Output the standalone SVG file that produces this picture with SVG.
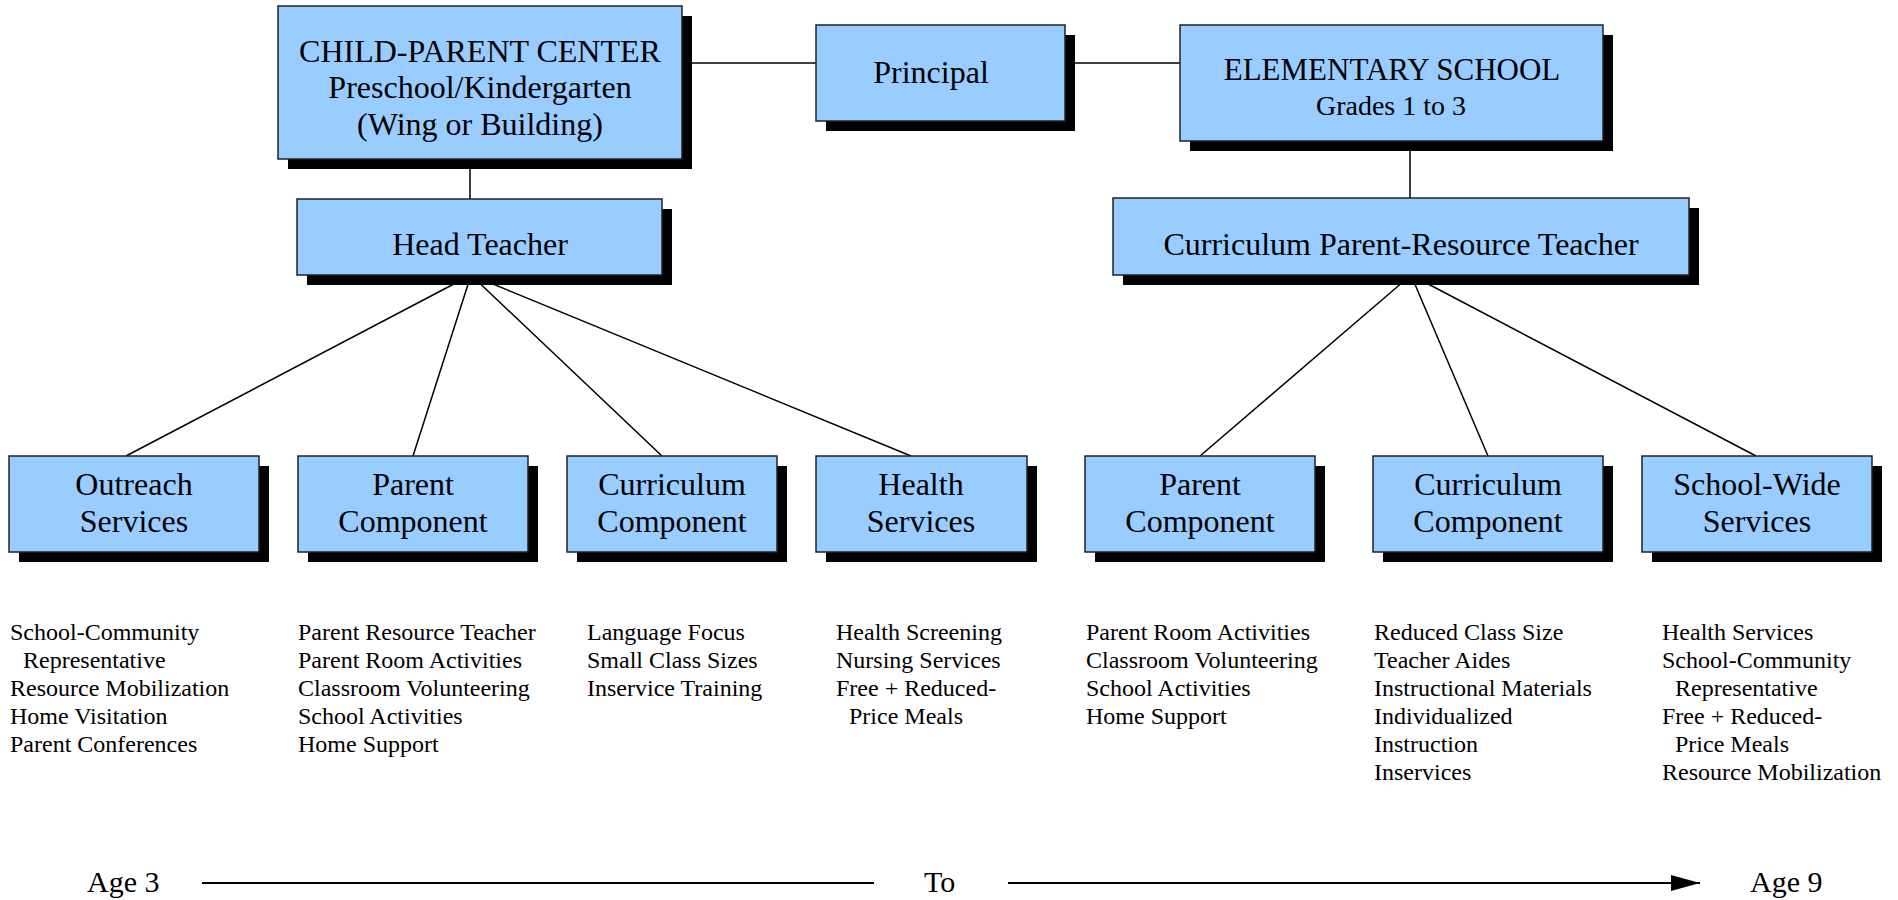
<svg xmlns="http://www.w3.org/2000/svg" width="1898" height="900" viewBox="0 0 1898 900">
<style>
.box{fill:#99ccff;stroke:#222;stroke-width:1.5}
.sh{fill:#000}
.t{font-family:"Liberation Serif","Times New Roman",serif;font-size:32px;fill:#000;text-anchor:middle}
.s{font-family:"Liberation Serif","Times New Roman",serif;font-size:24px;fill:#000}
.ax{font-family:"Liberation Serif","Times New Roman",serif;font-size:30px;fill:#000}
.ln{stroke:#000;stroke-width:1.5;fill:none}
</style>
<defs>
<marker id="arr" markerWidth="30" markerHeight="16" refX="29" refY="8" orient="auto" markerUnits="userSpaceOnUse">
<path d="M0,0 L29,8 L0,16 Z" fill="#000"/>
</marker>
</defs>
<rect width="1898" height="900" fill="#fff"/>
<g id="connectors">
<line class="ln" x1="682" y1="63" x2="816" y2="63"/>
<line class="ln" x1="1065" y1="63" x2="1180" y2="63"/>
<line class="ln" x1="470" y1="159" x2="470" y2="199"/>
<line class="ln" x1="1410" y1="141" x2="1410" y2="198"/>
<line class="ln" x1="471" y1="275" x2="126" y2="456"/>
<line class="ln" x1="471" y1="275" x2="413" y2="456"/>
<line class="ln" x1="471" y1="275" x2="662" y2="456"/>
<line class="ln" x1="471" y1="275" x2="911" y2="456"/>
<line class="ln" x1="1411" y1="275" x2="1200" y2="456"/>
<line class="ln" x1="1411" y1="275" x2="1488" y2="456"/>
<line class="ln" x1="1411" y1="275" x2="1756" y2="456"/>
</g>
<g id="cpc">
<rect class="sh" x="288" y="16" width="404" height="153"/>
<rect class="box" x="278" y="6" width="404" height="153"/>
<text class="t" x="480" y="62">CHILD-PARENT CENTER</text>
<text class="t" x="480" y="98">Preschool/Kindergarten</text>
<text class="t" x="480" y="135">(Wing or Building)</text>
</g>
<g id="principal">
<rect class="sh" x="826" y="35" width="249" height="96"/>
<rect class="box" x="816" y="25" width="249" height="96"/>
<text class="t" x="931" y="83">Principal</text>
</g>
<g id="elementary">
<rect class="sh" x="1190" y="35" width="423" height="116"/>
<rect class="box" x="1180" y="25" width="423" height="116"/>
<text class="t" x="1392" y="80" style="font-size:31px">ELEMENTARY SCHOOL</text>
<text class="t" x="1391" y="115" style="font-size:28px">Grades 1 to 3</text>
</g>
<g id="headteacher">
<rect class="sh" x="307" y="209" width="365" height="76"/>
<rect class="box" x="297" y="199" width="365" height="76"/>
<text class="t" x="480" y="255">Head Teacher</text>
</g>
<g id="cprt">
<rect class="sh" x="1123" y="208" width="576" height="77"/>
<rect class="box" x="1113" y="198" width="576" height="77"/>
<text class="t" x="1401" y="255">Curriculum Parent-Resource Teacher</text>
</g>
<g id="outreach">
<rect class="sh" x="19" y="466" width="250" height="96"/>
<rect class="box" x="9" y="456" width="250" height="96"/>
<text class="t" x="134" y="495">Outreach</text>
<text class="t" x="134" y="532">Services</text>
</g>
<g id="parent1">
<rect class="sh" x="308" y="466" width="230" height="96"/>
<rect class="box" x="298" y="456" width="230" height="96"/>
<text class="t" x="413" y="495">Parent</text>
<text class="t" x="413" y="532">Component</text>
</g>
<g id="curriculum1">
<rect class="sh" x="577" y="466" width="210" height="96"/>
<rect class="box" x="567" y="456" width="210" height="96"/>
<text class="t" x="672" y="495">Curriculum</text>
<text class="t" x="672" y="532">Component</text>
</g>
<g id="health">
<rect class="sh" x="826" y="466" width="211" height="96"/>
<rect class="box" x="816" y="456" width="211" height="96"/>
<text class="t" x="921" y="495">Health</text>
<text class="t" x="921" y="532">Services</text>
</g>
<g id="parent2">
<rect class="sh" x="1095" y="466" width="230" height="96"/>
<rect class="box" x="1085" y="456" width="230" height="96"/>
<text class="t" x="1200" y="495">Parent</text>
<text class="t" x="1200" y="532">Component</text>
</g>
<g id="curriculum2">
<rect class="sh" x="1383" y="466" width="230" height="96"/>
<rect class="box" x="1373" y="456" width="230" height="96"/>
<text class="t" x="1488" y="495">Curriculum</text>
<text class="t" x="1488" y="532">Component</text>
</g>
<g id="schoolwide">
<rect class="sh" x="1652" y="466" width="230" height="96"/>
<rect class="box" x="1642" y="456" width="230" height="96"/>
<text class="t" x="1757" y="495">School-Wide</text>
<text class="t" x="1757" y="532">Services</text>
</g>
<g id="lists">
<text class="s" x="10" y="640">School-Community</text>
<text class="s" x="23" y="668">Representative</text>
<text class="s" x="10" y="696">Resource Mobilization</text>
<text class="s" x="10" y="724">Home Visitation</text>
<text class="s" x="10" y="752">Parent Conferences</text>
<text class="s" x="298" y="640">Parent Resource Teacher</text>
<text class="s" x="298" y="668">Parent Room Activities</text>
<text class="s" x="298" y="696">Classroom Volunteering</text>
<text class="s" x="298" y="724">School Activities</text>
<text class="s" x="298" y="752">Home Support</text>
<text class="s" x="587" y="640">Language Focus</text>
<text class="s" x="587" y="668">Small Class Sizes</text>
<text class="s" x="587" y="696">Inservice Training</text>
<text class="s" x="836" y="640">Health Screening</text>
<text class="s" x="836" y="668">Nursing Services</text>
<text class="s" x="836" y="696">Free + Reduced-</text>
<text class="s" x="849" y="724">Price Meals</text>
<text class="s" x="1086" y="640">Parent Room Activities</text>
<text class="s" x="1086" y="668">Classroom Volunteering</text>
<text class="s" x="1086" y="696">School Activities</text>
<text class="s" x="1086" y="724">Home Support</text>
<text class="s" x="1374" y="640">Reduced Class Size</text>
<text class="s" x="1374" y="668">Teacher Aides</text>
<text class="s" x="1374" y="696">Instructional Materials</text>
<text class="s" x="1374" y="724">Individualized</text>
<text class="s" x="1374" y="752">Instruction</text>
<text class="s" x="1374" y="780">Inservices</text>
<text class="s" x="1662" y="640">Health Services</text>
<text class="s" x="1662" y="668">School-Community</text>
<text class="s" x="1675" y="696">Representative</text>
<text class="s" x="1662" y="724">Free + Reduced-</text>
<text class="s" x="1675" y="752">Price Meals</text>
<text class="s" x="1662" y="780">Resource Mobilization</text>
</g>
<g id="axis">
<text class="ax" x="87" y="892">Age 3</text>
<line x1="202" y1="883" x2="874" y2="883" stroke="#000" stroke-width="2"/>
<text class="ax" x="924" y="892">To</text>
<line x1="1008" y1="883" x2="1700" y2="883" stroke="#000" stroke-width="2" marker-end="url(#arr)"/>
<text class="ax" x="1750" y="892">Age 9</text>
</g>
</svg>
